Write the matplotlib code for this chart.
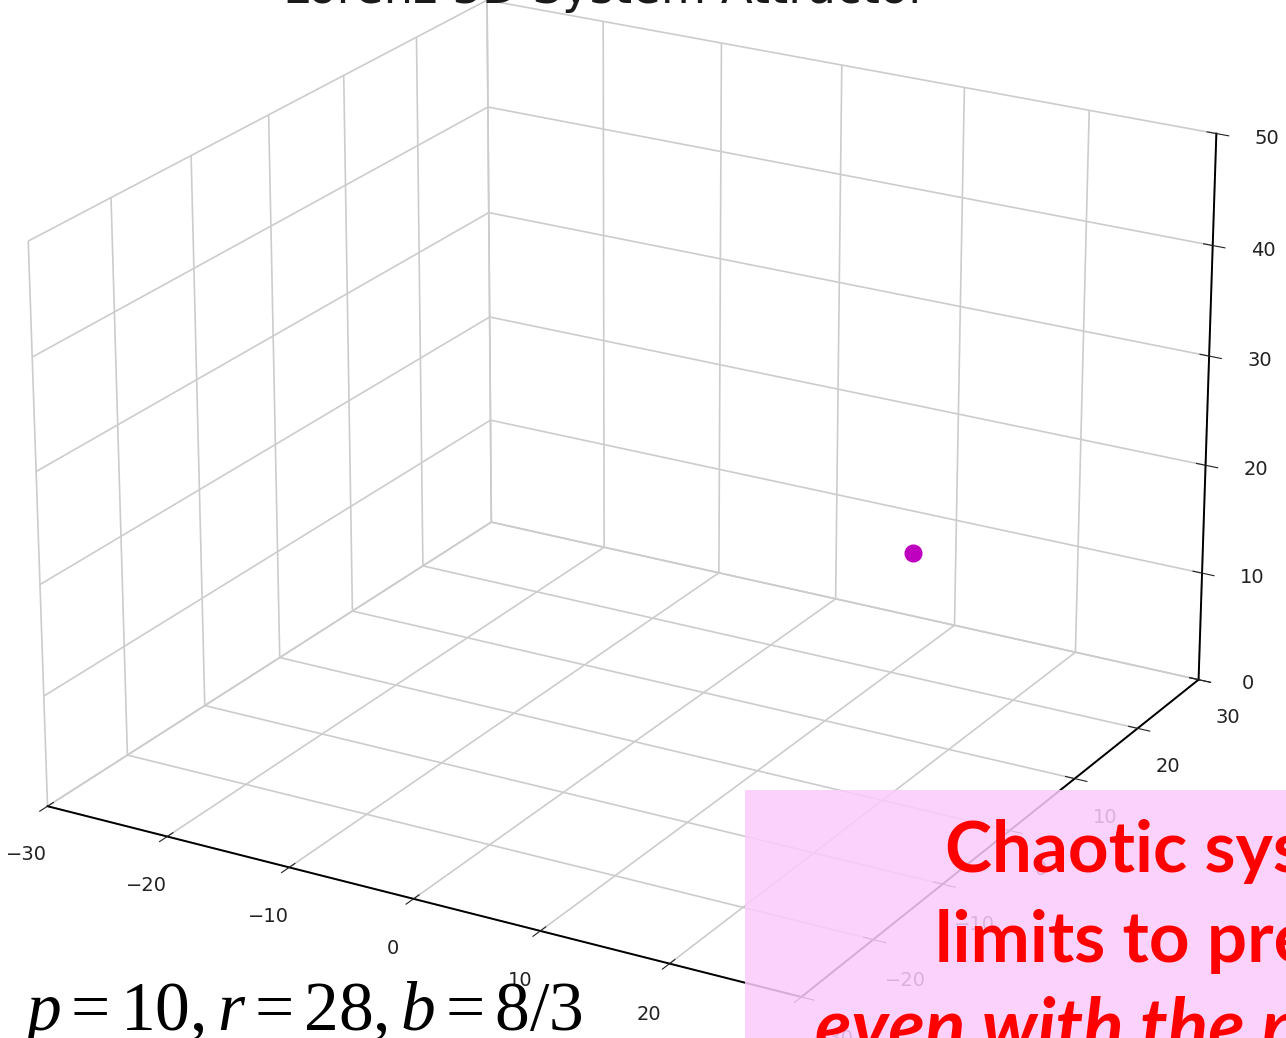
import matplotlib
matplotlib.use("Agg")
import matplotlib.pyplot as plt
from matplotlib.patches import Rectangle

# axis ranges and ticks
x_ticks = [-30, -20, -10, 0, 10, 20, 30]
y_ticks = [-30, -20, -10, 0, 10, 20, 30]
z_ticks = [0, 10, 20, 30, 40, 50]

# current state of the system (single point)
point_x = [19.5]
point_y = [5.0]
point_z = [20.0]

params_text = r"$p=10, r=28, b=8/3$"
box_lines = ["Chaotic systems have", "limits to predictability", "even with the perfect model"]

plt.rcParams["mathtext.fontset"] = "custom"
plt.rcParams["mathtext.rm"] = "Liberation Serif"
plt.rcParams["mathtext.it"] = "Liberation Serif:italic"

fig = plt.figure(figsize=(12.86, 10.38), dpi=100)
ax = fig.add_axes([-0.1516, -0.0996, 1.2627, 1.2627], projection="3d")
ax.view_init(elev=22, azim=-60)
ax.set_box_aspect((4, 4, 2.8))

ax.plot(point_x, point_y, point_z, "o", color=(0.75, 0, 0.75), ms=12)

ax.set_xlim(x_ticks[0], x_ticks[-1])
ax.set_ylim(y_ticks[0], y_ticks[-1])
ax.set_zlim(z_ticks[0], z_ticks[-1])
ax.set_xticks(x_ticks)
ax.set_yticks(y_ticks)
ax.set_zticks(z_ticks)

for axis in (ax.xaxis, ax.yaxis, ax.zaxis):
    axis.set_pane_color((1, 1, 1, 0))
    axis.pane.set_edgecolor((0.8, 0.8, 0.8))
    axis._axinfo["grid"]["color"] = (0.8, 0.8, 0.8, 1)
    axis._axinfo["grid"]["linewidth"] = 1.2
    axis._axinfo["tick"]["inward_factor"] = 0.2
    axis._axinfo["tick"]["outward_factor"] = 0.15
    axis.line.set_color("black")
    axis.line.set_linewidth(1.4)
ax.tick_params(labelsize=14, colors="#222222")
ax.xaxis.set_tick_params(pad=14)
ax.yaxis.set_tick_params(pad=12)
ax.zaxis.set_tick_params(pad=14)
ax.zaxis.set_ticks_position("upper")

fig.text(605 / 1286, 1 - 3 / 1038, "Lorenz 3D System Attractor", ha="center", va="baseline",
         fontsize=33.5, color="#1a1a1a")

# parameter annotation
fig.text(0.017, 8 / 1038, params_text, fontsize=50, color="black", ha="left", va="baseline")

# pink callout box
fig.patches.append(Rectangle((745 / 1286, 0), 0.5, 248 / 1038, transform=fig.transFigure,
                             facecolor="#fbcbfc", alpha=0.85, edgecolor="none", zorder=5))
line_x = [945, 935, 815]
line_base = [872, 962, 1052]
line_size = [51, 51, 54]
for i, txt in enumerate(box_lines):
    fig.text(line_x[i] / 1286, 1 - line_base[i] / 1038, txt, ha="left", va="baseline",
             fontsize=line_size[i], fontweight="bold", style="italic" if i == 2 else "normal",
             color="#ff0000", family="Lato", zorder=6)

fig.savefig("out.png", dpi=100)
